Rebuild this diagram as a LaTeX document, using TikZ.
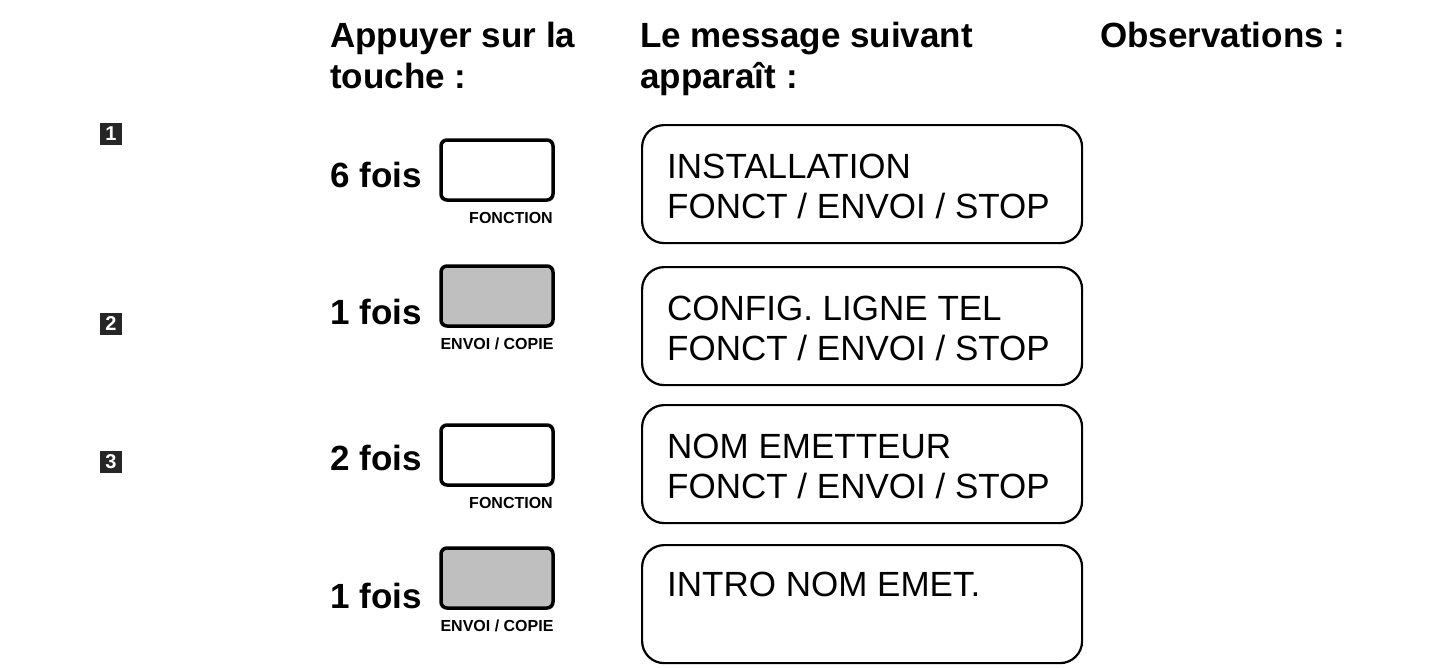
\documentclass[tikz,border=0pt]{standalone}
\usepackage{fontspec}
\setmainfont{Liberation Sans}
\usetikzlibrary{positioning}
\begin{document}
\begin{tikzpicture}[x=1pt,y=-1pt,
  head/.style={anchor=north west,inner sep=0pt,font=\fontsize{35}{41}\selectfont\bfseries,align=left},
  fois/.style={anchor=west,inner sep=0pt,font=\fontsize{35}{41}\selectfont\bfseries},
  touche/.style={draw,line width=3.5pt,rounded corners=6pt,minimum width=112pt,minimum height=60pt,inner sep=0pt},
  grise/.style={touche,fill=black!25},
  legende/.style={inner sep=0pt,font=\fontsize{16}{18}\selectfont\bfseries},
  ecran/.style={draw,line width=2.2pt,rounded corners=22pt,minimum width=440pt,minimum height=118pt,anchor=north west},
  ligne/.style={anchor=west,inner sep=0pt,font=\fontsize{35}{41}\selectfont},
  numero/.style={fill=black!85,text=white,minimum size=22pt,inner sep=0pt,font=\fontsize{20}{22}\selectfont\bfseries}]
\useasboundingbox (0,0) rectangle (1434,667);

% numeros
\node[numero] (n1) at (111,134) {1};
\node[numero] (n2) at (111,324) {2};
\node[numero] (n3) at (111,462) {3};

% en-tetes
\node[head] (h1) at (330,22) {Appuyer sur la\\touche :};
\node[head] (h2) at (640,22) {Le message suivant\\apparaît :};
\node[head] (h3) at (1100,22) {Observations :};

% etape 1
\node[fois] (f1) at (330,175) {6 fois};
\node[touche] (t1) at (497,170) {};
\node[legende,below=10pt of t1,xshift=14pt] (l1) {FONCTION};
\node[ecran] (e1) at (641,124) {};
\node[ligne] at (667,166) {INSTALLATION};
\node[ligne] at (667,206) {FONCT / ENVOI / STOP};

% etape 2
\node[fois] (f2) at (330,312) {1 fois};
\node[grise] (t2) at (497,296) {};
\node[legende,below=10pt of t2] (l2) {ENVOI / COPIE};
\node[ecran] (e2) at (641,266) {};
\node[ligne] at (667,308) {CONFIG. LIGNE TEL};
\node[ligne] at (667,348) {FONCT / ENVOI / STOP};

% etape 3
\node[fois] (f3) at (330,458) {2 fois};
\node[touche] (t3) at (497,455) {};
\node[legende,below=10pt of t3,xshift=14pt] (l3) {FONCTION};
\node[ecran] (e3) at (641,404) {};
\node[ligne] at (667,446) {NOM EMETTEUR};
\node[ligne] at (667,486) {FONCT / ENVOI / STOP};

% etape 4
\node[fois] (f4) at (330,596) {1 fois};
\node[grise] (t4) at (497,578) {};
\node[legende,below=10pt of t4] (l4) {ENVOI / COPIE};
\node[ecran] (e4) at (641,544) {};
\node[ligne] at (667,584) {INTRO NOM EMET.};
\end{tikzpicture}
\end{document}
